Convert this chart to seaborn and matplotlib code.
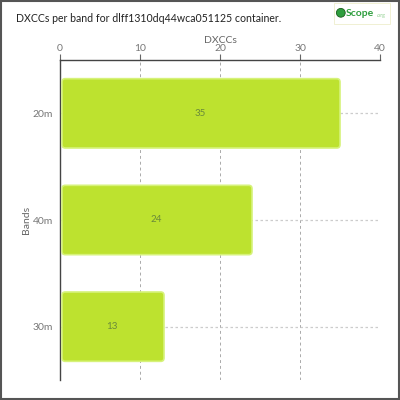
import matplotlib
matplotlib.use('Agg')
import matplotlib.pyplot as plt
import seaborn as sns
import pandas as pd
from matplotlib.patches import FancyBboxPatch, Rectangle, Circle

sns.set_style("white")
plt.rcParams['font.family'] = ['Lato', 'DejaVu Sans']

# Data
bands = ['20m', '40m', '30m']
dxccs = [35, 24, 13]
title = 'DXCCs per band for dlff1310dq44wca051125 container.'

df = pd.DataFrame({'band': bands, 'dxcc': dxccs})

fig = plt.figure(figsize=(4, 4), dpi=100)
fig.patch.set_facecolor('white')
ax = fig.add_axes([0.15, 0.05, 0.80, 0.80])

sns.barplot(data=df, x='dxcc', y='band', orient='h', color='#bde22f',
            width=0.65, saturation=1, ax=ax, zorder=3)

# rounded bars, rebuilt from seaborn's patches
for p in list(ax.patches):
    x0, y0 = p.get_x(), p.get_y()
    w, h = p.get_width(), p.get_height()
    rb = FancyBboxPatch((x0 + 0.25, y0), w - 0.25, h,
                        boxstyle='round,pad=0,rounding_size=0.4',
                        mutation_aspect=0.08,
                        facecolor='#bde22f', edgecolor='#d6f27a',
                        linewidth=1.2, zorder=3)
    p.remove()
    ax.add_patch(rb)

for i, v in enumerate(dxccs):
    ax.text(v / 2, i, str(v), ha='center', va='center',
            fontsize=7, color='#6a8a3a', zorder=4)

ax.set_xlim(0, 40)
ax.set_ylim(2.5, -0.5)
ax.xaxis.tick_top()
ax.xaxis.set_label_position('top')
ax.set_xticks([0, 10, 20, 30, 40])
ax.set_xlabel('DXCCs', fontsize=7.5, color='#666666', labelpad=1)
ax.set_ylabel('Bands', fontsize=7.5, color='#666666', labelpad=1)
ax.tick_params(axis='x', colors='#666666', labelsize=7.5, length=4, width=0.8, pad=1)
ax.tick_params(axis='y', colors='#666666', labelsize=7.5, length=4, width=0.8, pad=1)
for lbl in ax.get_xticklabels() + ax.get_yticklabels():
    lbl.set_color('#777777')

for s in ['right', 'bottom']:
    ax.spines[s].set_visible(False)
ax.spines['top'].set_color('#444444')
ax.spines['left'].set_color('#444444')
ax.spines['top'].set_linewidth(1)
ax.spines['left'].set_linewidth(1)

ax.grid(axis='x', linestyle=(0, (3, 3)), color='#aaaaaa', linewidth=0.7, zorder=1)
ax.grid(axis='y', linestyle=(0, (2, 2)), color='#cccccc', linewidth=0.9, zorder=1)
ax.set_axisbelow(True)

fig.text(0.04, 0.955, title, fontsize=7.6, color='#222222', ha='left', va='center')

# logo
fig.patches.append(Rectangle((0.835, 0.94), 0.14, 0.052, transform=fig.transFigure,
                             facecolor='white', edgecolor='#eeeecc', linewidth=0.6))
fig.patches.append(Circle((0.852, 0.968), 0.011, transform=fig.transFigure,
                          facecolor='#2e9e3e', edgecolor='#1a5a1a', linewidth=0.6))
fig.text(0.865, 0.967, 'Scope', fontsize=7.5, color='#2e9e3e', fontweight='bold',
         ha='left', va='center')
fig.text(0.943, 0.960, '.org', fontsize=3.8, color='#8fcf8f', ha='left', va='center')

# figure border
fig.patches.append(Rectangle((0.002, 0.002), 0.996, 0.996, transform=fig.transFigure,
                             fill=False, edgecolor='#555555', linewidth=1.5))

plt.savefig('out.png', dpi=100)
